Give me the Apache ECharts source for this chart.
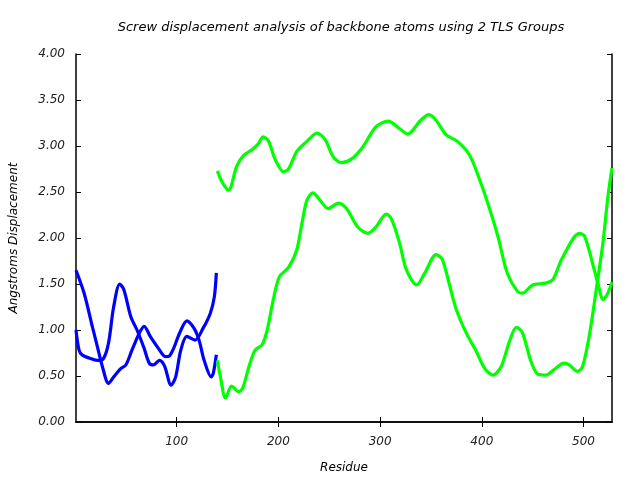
<!DOCTYPE html>
<html>
<head>
<meta charset="utf-8">
<script src="https://cdn.jsdelivr.net/npm/echarts@6/dist/echarts.min.js"></script>
<style>html,body{margin:0;padding:0;background:#fff}#c{width:640px;height:480px}</style>
</head>
<body>
<div id="c"></div>
<script>
const titleText = "Screw displacement analysis of backbone atoms using 2 TLS Groups";
const xName = "Residue";
const yName = "Angstroms Displacement";
const xTicks = [100, 200, 300, 400, 500];

// Group 1 (blue), two screw curves
const blueAx = [1, 9, 17, 22, 27, 33, 38, 45, 50, 56, 63, 68, 74, 82, 89, 93, 97, 103, 110, 117, 122, 127, 134, 136, 139];
const blueAy = [1.65, 1.40, 1.04, 0.82, 0.60, 0.42, 0.49, 0.58, 0.62, 0.78, 0.96, 1.04, 0.93, 0.80, 0.71, 0.72, 0.80, 0.97, 1.10, 1.02, 0.89, 0.67, 0.49, 0.53, 0.73];
const blueBx = [1, 4, 7, 15, 22, 28, 33, 38, 44, 48, 55, 61, 68, 73, 77, 83, 88, 94.5, 99, 104, 110, 118, 126, 133, 137, 139];
const blueBy = [1.00, 0.78, 0.73, 0.69, 0.67, 0.69, 0.86, 1.25, 1.50, 1.44, 1.14, 1.00, 0.80, 0.64, 0.62, 0.67, 0.61, 0.40, 0.49, 0.78, 0.93, 0.89, 1.02, 1.18, 1.36, 1.62];

// Group 2 (green), two screw curves
const greenCx = [140, 145, 151, 159, 166, 174, 180, 185, 190, 197, 205, 210, 218, 228, 238, 246, 254, 262, 272, 283, 296, 308, 319, 327, 340, 348, 355, 365, 376, 388, 398, 407, 416, 425, 435, 440, 450, 463, 470, 479, 496, 501, 509, 515, 519, 523, 528];
const greenCy = [2.73, 2.60, 2.52, 2.78, 2.90, 2.96, 3.02, 3.10, 3.06, 2.85, 2.72, 2.75, 2.94, 3.05, 3.14, 3.07, 2.88, 2.82, 2.86, 2.99, 3.21, 3.27, 3.19, 3.13, 3.28, 3.34, 3.28, 3.12, 3.05, 2.90, 2.63, 2.34, 2.01, 1.62, 1.42, 1.40, 1.49, 1.51, 1.55, 1.78, 2.05, 2.02, 1.72, 1.47, 1.33, 1.38, 1.52];
const greenDx = [140, 143, 148, 154, 161, 165, 171, 177, 184, 189, 195, 201, 210, 218, 223, 228, 234, 241, 249, 259, 267, 278, 288, 296, 306, 311, 319, 326, 336, 344, 355, 361, 368, 375, 385, 394, 403, 411, 419, 427, 434, 440, 448, 455, 463, 471, 481, 486, 494, 499, 506, 512, 519, 524, 528];
const greenDy = [0.67, 0.49, 0.26, 0.39, 0.33, 0.37, 0.60, 0.78, 0.84, 1.00, 1.33, 1.58, 1.68, 1.87, 2.15, 2.41, 2.49, 2.41, 2.32, 2.38, 2.32, 2.12, 2.05, 2.12, 2.26, 2.21, 1.95, 1.65, 1.49, 1.62, 1.82, 1.77, 1.50, 1.22, 0.96, 0.78, 0.58, 0.51, 0.60, 0.87, 1.03, 0.97, 0.67, 0.52, 0.51, 0.57, 0.64, 0.62, 0.55, 0.60, 0.96, 1.40, 1.94, 2.45, 2.76];

const pair = (xs, ys) => xs.map((x, i) => [x, ys[i]]);
const FONT = "DejaVu Sans";
const lineSeries = (xs, ys, color) => ({
  type: 'line', data: pair(xs, ys), smooth: 0.3, showSymbol: false, symbol: 'none',
  lineStyle: { color: color, width: 3.2 }, itemStyle: { color: color }, animation: false
});

const chart = echarts.init(document.getElementById('c'), null, { renderer: 'canvas' });
const axisLine = { show: true, lineStyle: { color: '#000', width: 1.5 } };
chart.setOption({
  backgroundColor: '#fff',
  animation: false,
  graphic: [{
    type: 'text', x: 341, y: 28,
    style: { text: titleText, textAlign: 'center', textVerticalAlign: 'middle',
      font: 'italic 13px "DejaVu Sans"', fill: '#000' }
  }],
  grid: { left: 76, right: 28, top: 54, bottom: 58, containLabel: false },
  xAxis: [{
    type: 'value', min: 1, max: 528, position: 'bottom',
    name: xName, nameLocation: 'middle', nameGap: 40,
    nameTextStyle: { fontFamily: FONT, fontStyle: 'italic', fontSize: 12, color: '#000' },
    axisLine: axisLine,
    axisTick: { show: true, inside: true, length: 5, customValues: xTicks, lineStyle: { color: '#000' } },
    axisLabel: { customValues: xTicks, fontFamily: FONT, fontStyle: 'italic', fontSize: 12, color: '#222', margin: 14 },
    splitLine: { show: false }
  }, {
    type: 'value', min: 1, max: 528, position: 'top',
    axisLine: axisLine,
    axisTick: { show: true, inside: true, length: 5, customValues: xTicks, lineStyle: { color: '#000' } },
    axisLabel: { show: false }, splitLine: { show: false }
  }],
  yAxis: [{
    type: 'value', min: 0, max: 4, interval: 0.5, position: 'left',
    name: yName, nameLocation: 'middle', nameGap: 56, nameRotate: 90,
    nameTextStyle: { fontFamily: FONT, fontStyle: 'italic', fontSize: 12, color: '#000' },
    axisLine: axisLine,
    axisTick: { show: true, inside: true, length: 5, lineStyle: { color: '#000' } },
    axisLabel: { formatter: v => v.toFixed(2), fontFamily: FONT, fontStyle: 'italic', fontSize: 12, color: '#222', margin: 11 },
    splitLine: { show: false }
  }, {
    type: 'value', min: 0, max: 4, interval: 0.5, position: 'right',
    axisLine: axisLine,
    axisTick: { show: true, inside: true, length: 5, lineStyle: { color: '#000' } },
    axisLabel: { show: false }, splitLine: { show: false }
  }],
  series: [
    lineSeries(blueAx, blueAy, '#0000ff'),
    lineSeries(blueBx, blueBy, '#0000ff'),
    lineSeries(greenCx, greenCy, '#00ff00'),
    lineSeries(greenDx, greenDy, '#00ff00')
  ]
});
</script>
</body>
</html>
